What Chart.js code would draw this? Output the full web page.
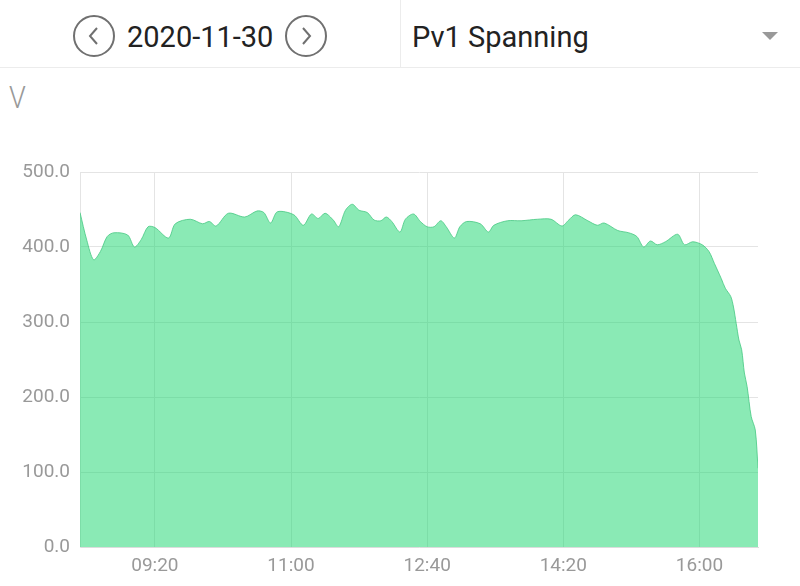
<!DOCTYPE html>
<html>
<head>
<meta charset="utf-8">
<script src="https://cdn.jsdelivr.net/npm/chart.js@4"></script>
<style>
  body { margin: 0; width: 800px; height: 586px; background: #fff; font-family: Roboto, sans-serif; overflow: hidden; position: relative; }
  .top { position: absolute; left: 0; top: 0; width: 800px; height: 67px; border-bottom: 1px solid #ececec; }
  .circ { position: absolute; top: 15px; width: 42px; height: 42px; border: 2px solid #707070; border-radius: 50%; box-sizing: border-box; }
  .circ svg { position: absolute; left: 0; top: 0; }
  .date { position: absolute; left: 127px; top: 16px; font-size: 29px; color: #222; line-height: 42px; }
  .sep { position: absolute; left: 400px; top: 0; width: 1px; height: 67px; background: #ececec; }
  .sel { position: absolute; left: 412px; top: 16px; font-size: 29px; color: #222; line-height: 42px; }
  .tri { position: absolute; left: 762px; top: 32px; width: 0; height: 0; border-left: 8px solid transparent; border-right: 8px solid transparent; border-top: 8px solid #999; }
  .unit { position: absolute; left: 9px; top: 78px; font-size: 32px; font-weight: 300; color: #999; transform: scaleX(0.85); transform-origin: left; }
  #wrap { position: absolute; left: 0; top: 150px; width: 800px; height: 436px; }
</style>
</head>
<body>
<div class="top">
  <div class="circ" style="left:73px"><svg width="38" height="38"><polyline points="22,11 15,19 22,27" fill="none" stroke="#707070" stroke-width="2"/></svg></div>
  <div class="date">2020-11-30</div>
  <div class="circ" style="left:285px"><svg width="38" height="38"><polyline points="16,11 23,19 16,27" fill="none" stroke="#707070" stroke-width="2"/></svg></div>
  <div class="sep"></div>
  <div class="sel">Pv1 Spanning</div>
  <div class="tri"></div>
</div>
<div class="unit">V</div>
<div id="wrap"><canvas id="chart"></canvas></div>
<script>
const times = ["08:25","08:30","08:35","08:40","08:45","08:50","09:00","09:05","09:10","09:15","09:20","09:30","09:35","09:46","09:55","10:00","10:05","10:14","10:26","10:35","10:40","10:45","10:50","11:02","11:09","11:15","11:20","11:25","11:31","11:35","11:40","11:45","11:50","11:56","12:01","12:06","12:10","12:14","12:20","12:24","12:30","12:35","12:40","12:45","12:50","12:54","13:00","13:04","13:09","13:19","13:25","13:29","13:39","13:49","14:01","14:11","14:19","14:24","14:29","14:38","14:45","14:50","15:00","15:08","15:14","15:19","15:24","15:29","15:35","15:44","15:49","15:55","16:02","16:07","16:11","16:16","16:19","16:23","16:25","16:27","16:29","16:31","16:33","16:35","16:38","16:41","16:43"];
const volts = [446,409,383,394,414,419,416,400,410,427,426,412,431,437,431,434,428,445,440,448,446,432,447,443,429,444,438,445,436,427,449,457,449,446,436,435,440,434,420,437,444,434,427,427,435,427,412,427,434,431,420,429,435,435,437,437,428,436,443,435,429,432,422,419,414,400,408,403,407,417,403,407,403,394,378,358,345,334,320,298,276,263,232,214,174,156,105];
const tickTimes = ["09:20","11:00","12:40","14:20","16:00"];
const yTicks = [0, 100, 200, 300, 400, 500];

function toMin(s) {
  const p = s.split(":");
  return parseInt(p[0]) * 60 + parseInt(p[1]);
}
function toLabel(m) {
  const h = Math.floor(m / 60), mm = m % 60;
  return String(h).padStart(2, "0") + ":" + String(mm).padStart(2, "0");
}

const points = times.map((t, i) => ({ x: toMin(t), y: volts[i] }));

new Chart(document.getElementById("chart"), {
  type: "line",
  data: {
    datasets: [{
      data: points,
      fill: "origin",
      backgroundColor: "rgba(22,214,108,0.5)",
      borderColor: "rgba(70,200,130,0.8)",
      borderWidth: 1,
      pointRadius: 0,
      tension: 0.3
    }]
  },
  options: {
    responsive: true,
    maintainAspectRatio: false,
    animation: false,
    layout: { padding: { left: 0, right: 42, top: 22, bottom: 0 } },
    plugins: { legend: { display: false }, tooltip: { enabled: false } },
    scales: {
      x: {
        type: "linear",
        min: toMin("08:25"),
        max: toMin("16:43"),
        afterBuildTicks: (s) => { s.ticks = tickTimes.map(t => ({ value: toMin(t) })); },
        afterFit: (s) => { s.height = 39; },
        grid: { color: "#e4e4e4", drawTicks: false },
        border: { color: "#dcdcdc" },
        ticks: { color: "#999", font: { family: "Roboto", size: 19 }, padding: 8, maxRotation: 0, callback: (v) => toLabel(v) }
      },
      y: {
        min: 0,
        max: 500,
        afterBuildTicks: (s) => { s.ticks = yTicks.map(v => ({ value: v })); },
        afterFit: (s) => { s.width = 80; },
        grid: { color: "#e4e4e4", drawTicks: false },
        border: { color: "#e4e4e4" },
        ticks: { color: "#999", font: { family: "Roboto", size: 19 }, padding: 10, callback: (v) => v.toFixed(1) }
      }
    }
  }
});
</script>
</body>
</html>
